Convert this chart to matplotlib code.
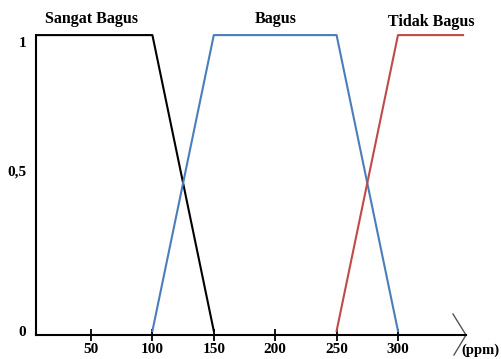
import matplotlib
matplotlib.use("Agg")
import matplotlib.pyplot as plt

# membership functions (ppm vs degree)
sangat_x = [0, 0, 100, 150]
sangat_y = [0, 1, 1, 0]
bagus_x = [100, 150, 250, 300]
bagus_y = [0, 1, 1, 0]
tidak_x = [250, 300, 353]
tidak_y = [0, 1, 1]

xticks = [50, 100, 150, 200, 250, 300]
yticks = [0, 0.544, 0.976]
ylabels = ["0", "0,5", "1"]

labels = ["Sangat Bagus", "Bagus", "Tidak Bagus"]
label_pos = [(50.8, 1.054), (200.7, 1.054), (326.9, 1.044)]

font = {"family": "Liberation Serif", "weight": "bold"}

fig = plt.figure(figsize=(5.02, 3.59), dpi=100)
ax = fig.add_axes([36 / 502, 24 / 359, 430 / 502, 315 / 359])

ax.plot(sangat_x, sangat_y, color="black", lw=1.5)
ax.plot(bagus_x, bagus_y, color="#4a7ebb", lw=1.5)
ax.plot(tidak_x, tidak_y, color="#be4b48", lw=1.5)

ymin = -0.0135
ax.set_xlim(5.2, 355.4)
ax.set_ylim(ymin, 1.051)

for s in ["top", "right"]:
    ax.spines[s].set_visible(False)
ax.spines["left"].set_linewidth(1.5)
ax.spines["bottom"].set_linewidth(1.5)
ax.spines["left"].set_bounds(ymin, 1)

ax.set_xticks(xticks)
ax.set_xticklabels([str(t) for t in xticks], fontdict=font, fontsize=11)
ax.tick_params(axis="x", direction="inout", length=8, width=1.3, pad=2)
ax.set_yticks(yticks)
ax.set_yticklabels(ylabels, fontdict=font, fontsize=11)
ax.tick_params(axis="y", length=0, pad=7)

for name, (lx, ly) in zip(labels, label_pos):
    ax.text(lx, ly, name, ha="center", va="center", fontsize=11.5, **font)

# arrow head at end of x axis
ax.plot([344.8, 355.4, 345.6], [0.0574, ymin, -0.081], color="#555555", lw=1, clip_on=False)
ax.text(351.3, -0.064, "(ppm)", ha="left", va="center", fontsize=10.5, **font)

fig.savefig("out.png", dpi=100)
